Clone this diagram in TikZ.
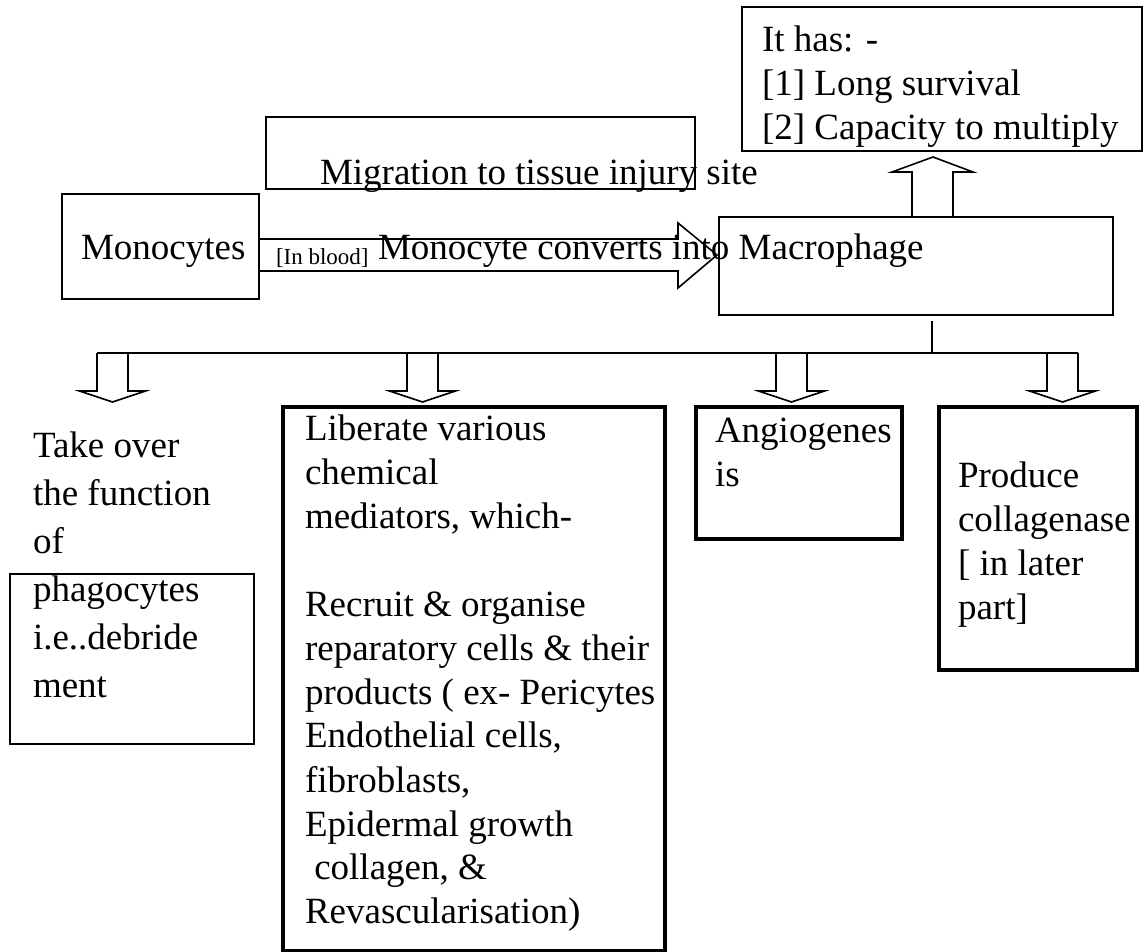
\documentclass[tikz,border=0pt]{standalone}
\usepackage{fontspec}
\setmainfont{Liberation Serif}
\usetikzlibrary{calc}
\newcommand{\mylines}[1]{\begin{tabular}[t]{@{}l@{}}#1\end{tabular}}
\tikzset{
  box/.style={draw, line width=1.6pt, rectangle, inner sep=0pt, outer sep=0pt, anchor=north west},
  thickbox/.style={box, line width=3.2pt},
  thinbox/.style={box, line width=1.3pt},
  txt/.style={inner sep=0pt, outer sep=0pt, anchor=base west, font=\fontsize{37}{44}\selectfont},
  loosetxt/.style={txt, font=\fontsize{37}{48}\selectfont},
  smalltxt/.style={txt, font=\fontsize{23}{27}\selectfont},
  conn/.style={draw, line width=1.6pt, line join=miter},
  downarrow/.pic={\draw[conn] (-15.5,0) -- (-15.5,38) -- (-33,38) -- (0,49) -- (33,38) -- (15.5,38) -- (15.5,0);}
}
\begin{document}
\begin{tikzpicture}[x=1pt,y=-1pt]
\fill[white] (0,0) rectangle (1144,952);
\useasboundingbox (0,0) rectangle (1144,952);

% boxes
\node[box, minimum width=197pt, minimum height=105pt] (mono) at (62,194) {};
\node[box, minimum width=429pt, minimum height=72pt] (mig) at (266,117) {};
\node[box, minimum width=394pt, minimum height=98pt] (mac) at (719,217) {};
\node[box, minimum width=400pt, minimum height=144pt] (has) at (742,7) {};
\node[thinbox, minimum width=244pt, minimum height=170pt] (phago) at (10,574) {};
\node[thickbox, minimum width=382pt, minimum height=544pt] (lib) at (283,407) {};
\node[thickbox, minimum width=206pt, minimum height=132pt] (angio) at (696,407) {};
\node[thickbox, minimum width=198pt, minimum height=263pt] (prod) at (939,407) {};

% big arrow Monocytes -> Macrophage
\draw[conn] (mono.east |- 0,239) -- (678,239) -- (678,223) -- ([xshift=-2pt]mac.west |- 0,255)
  -- (678,288) -- (678,271) -- (mono.east |- 0,271);

% up arrow Macrophage -> It has
\draw[conn] (mac.north -| 912,0) -- (912,172) -- (892,172) -- ([yshift=-6pt]has.south -| 933,0)
  -- (973,172) -- (953,172) -- (mac.north -| 953,0);

% branch from Macrophage
\coordinate (hub) at (932,353);
\draw[conn] ([yshift=-6pt]mac.south -| hub) -- (hub);
\draw[conn] (97,353) -- (1078,353);
\pic at (112.5,353) {downarrow};
\pic at (422.5,353) {downarrow};
\pic at (791.5,353) {downarrow};
\pic at (1062.5,353) {downarrow};

% texts
\node[txt] (monot) at (81,260) {Monocytes};
\node[smalltxt] (blood) at (276,265) {[In blood]};
\node[txt] (conv) at (378,260) {Monocyte converts into Macrophage};
\node[txt] (migt) at (320,185) {Migration to tissue injury site};
\node[txt] (hast) at (762,52) {\mylines{It has: -\\{}[1] Long survival\\{}[2] Capacity to multiply}};
\node[loosetxt] (takeover) at (33,457) {\mylines{Take over\\ the function\\ of\\ phagocytes\\ i.e..debride\\ ment}};
\node[txt] (libt) at (305,440) {\mylines{Liberate various\\ chemical\\ mediators, which-\\ \\ Recruit \& organise\\ reparatory cells \& their\\ products ( ex- Pericytes\\ Endothelial cells,\\ fibroblasts,\\ Epidermal growth\\ \ collagen, \&\\ Revascularisation)}};
\node[txt] (angiot) at (715,442) {\mylines{Angiogenes\\ is}};
\node[txt] (prodt) at (958,487) {\mylines{Produce\\ collagenase\\{}[ in later\\ part]}};
\end{tikzpicture}
\end{document}
